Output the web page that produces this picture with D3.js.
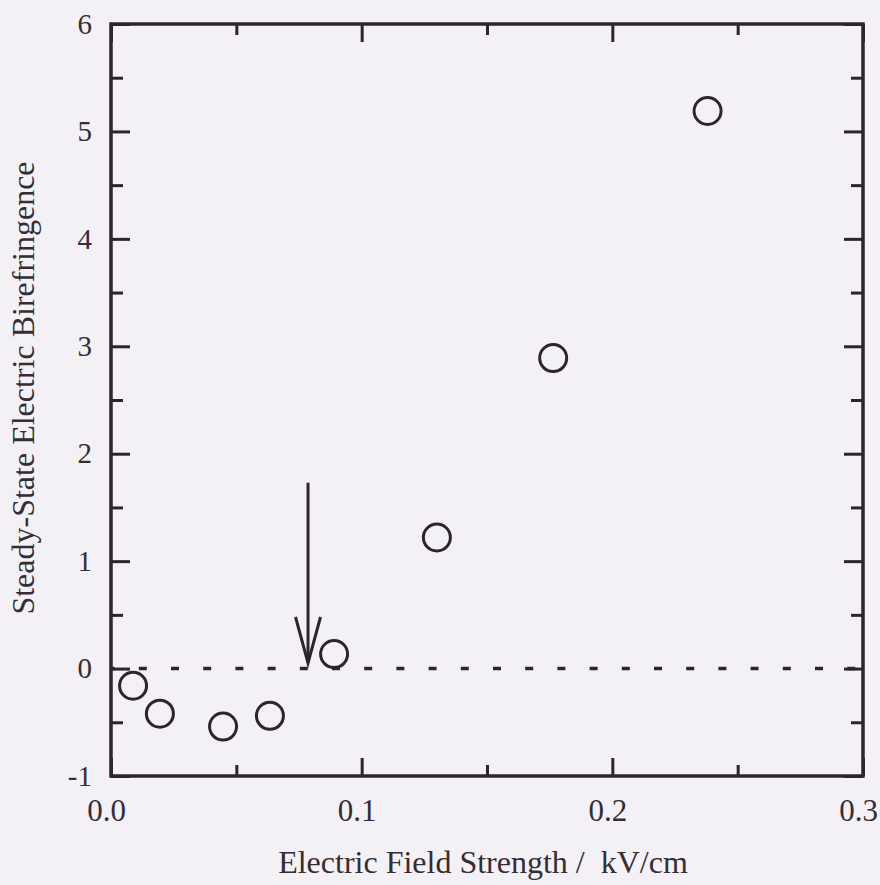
<!DOCTYPE html>
<html>
<head>
<meta charset="utf-8">
<script src="https://cdn.jsdelivr.net/npm/d3@7"></script>
<style>
  html, body { margin: 0; padding: 0; background: #f3f1f5; }
  svg { display: block; }
  text { font-family: "Liberation Serif", "Times New Roman", serif; fill: #352d31; }
</style>
</head>
<body>
<svg id="chart" width="880" height="885"></svg>
<script>
// ---- data ----
const fieldStrength = [0.0088, 0.0195, 0.0447, 0.0634, 0.089, 0.130, 0.1764, 0.238];
const birefringence = [-0.16, -0.42, -0.54, -0.44, 0.135, 1.22, 2.89, 5.19];
const xMajorTicks = [0.0, 0.1, 0.2, 0.3];
const xMinorTicks = [0.05, 0.15, 0.25];
const yMajorTicks = [-1, 0, 1, 2, 3, 4, 5, 6];
const yMinorTicks = [-0.5, 0.5, 1.5, 2.5, 3.5, 4.5, 5.5];
const arrowX = 0.0786;
const arrowY = [1.73, 0.052];
const xDomain = [0, 0.3];
const yDomain = [-1, 6];
const xTitle = "Electric Field Strength /\u00A0 kV/cm";
const yTitle = "Steady-State Electric Birefringence";

// ---- layout ----
const ink = "#2d2529";
const mLeft = 111, mRight = 863, mTop = 24, mBottom = 776;
const svg = d3.select("#chart");

const x = d3.scaleLinear().domain(xDomain).range([mLeft, mRight]);
const y = d3.scaleLinear().domain(yDomain).range([mBottom, mTop]);

// frame
svg.append("rect")
  .attr("x", mLeft).attr("y", mTop)
  .attr("width", mRight - mLeft).attr("height", mBottom - mTop)
  .attr("fill", "none").attr("stroke", ink).attr("stroke-width", 3.5);

function styleAxis(g, fontSize) {
  g.attr("font-size", fontSize).attr("font-family", '"Liberation Serif", "Times New Roman", serif');
  g.select(".domain").remove();
  g.selectAll(".tick line").attr("stroke", ink).attr("stroke-width", 3);
  g.selectAll(".tick text").attr("fill", "#352d31")
    .attr("font-size", fontSize)
    .style("font-size", fontSize + "px");
}

// bottom axis (major with labels)
svg.append("g").attr("transform", `translate(0,${mBottom})`)
  .call(d3.axisBottom(x).tickValues(xMajorTicks).tickSizeInner(-18).tickSizeOuter(0)
    .tickPadding(23).tickFormat(d3.format(".1f")))
  .call(g => styleAxis(g, 31))
  .call(g => g.selectAll(".tick text").attr("dx", -5));
svg.append("g").attr("transform", `translate(0,${mBottom})`)
  .call(d3.axisBottom(x).tickValues(xMinorTicks).tickSizeInner(-11).tickSizeOuter(0).tickFormat(""))
  .call(g => styleAxis(g, 31));
// top axis
svg.append("g").attr("transform", `translate(0,${mTop})`)
  .call(d3.axisTop(x).tickValues(xMajorTicks).tickSizeInner(-18).tickSizeOuter(0).tickFormat(""))
  .call(g => styleAxis(g, 31));
svg.append("g").attr("transform", `translate(0,${mTop})`)
  .call(d3.axisTop(x).tickValues(xMinorTicks).tickSizeInner(-11).tickSizeOuter(0).tickFormat(""))
  .call(g => styleAxis(g, 31));
// left axis
svg.append("g").attr("transform", `translate(${mLeft},0)`)
  .call(d3.axisLeft(y).tickValues(yMajorTicks).tickSizeInner(-19).tickSizeOuter(0)
    .tickPadding(19).tickFormat(d => String(d)))
  .call(g => styleAxis(g, 29));
svg.append("g").attr("transform", `translate(${mLeft},0)`)
  .call(d3.axisLeft(y).tickValues(yMinorTicks).tickSizeInner(-12).tickSizeOuter(0).tickFormat(""))
  .call(g => styleAxis(g, 29));
// right axis
svg.append("g").attr("transform", `translate(${mRight},0)`)
  .call(d3.axisRight(y).tickValues(yMajorTicks).tickSizeInner(-19).tickSizeOuter(0).tickFormat(""))
  .call(g => styleAxis(g, 29));
svg.append("g").attr("transform", `translate(${mRight},0)`)
  .call(d3.axisRight(y).tickValues(yMinorTicks).tickSizeInner(-12).tickSizeOuter(0).tickFormat(""))
  .call(g => styleAxis(g, 29));

// zero dashed line
svg.append("line")
  .attr("x1", x(xDomain[0])).attr("x2", x(xDomain[1]))
  .attr("y1", y(0)).attr("y2", y(0))
  .attr("stroke", ink).attr("stroke-width", 3.5)
  .attr("stroke-dasharray", "8,24.2").attr("stroke-dashoffset", 4.4);

// arrow
const ax = x(arrowX), ay0 = y(arrowY[0]), ay1 = y(arrowY[1]);
svg.append("line")
  .attr("x1", ax).attr("x2", ax).attr("y1", ay0).attr("y2", ay1)
  .attr("stroke", ink).attr("stroke-width", 3);
svg.append("path")
  .attr("d", `M${ax - 12.5},${ay1 - 46} L${ax},${ay1} L${ax + 12.5},${ay1 - 46}`)
  .attr("fill", "none").attr("stroke", ink).attr("stroke-width", 3)
  .attr("stroke-linejoin", "miter");

// points
svg.append("g").selectAll("circle")
  .data(fieldStrength.map((f, i) => ({ f, b: birefringence[i] })))
  .join("circle")
  .attr("cx", d => x(d.f)).attr("cy", d => y(d.b))
  .attr("r", 13.5)
  .attr("fill", "none").attr("stroke", ink).attr("stroke-width", 3);

// titles
svg.append("text")
  .attr("x", 483).attr("y", 873)
  .attr("text-anchor", "middle")
  .style("font-size", "32px")
  .text(xTitle);
svg.append("text")
  .attr("transform", `translate(34,388) rotate(-90)`)
  .attr("text-anchor", "middle")
  .style("font-size", "32px")
  .text(yTitle);
</script>
</body>
</html>
